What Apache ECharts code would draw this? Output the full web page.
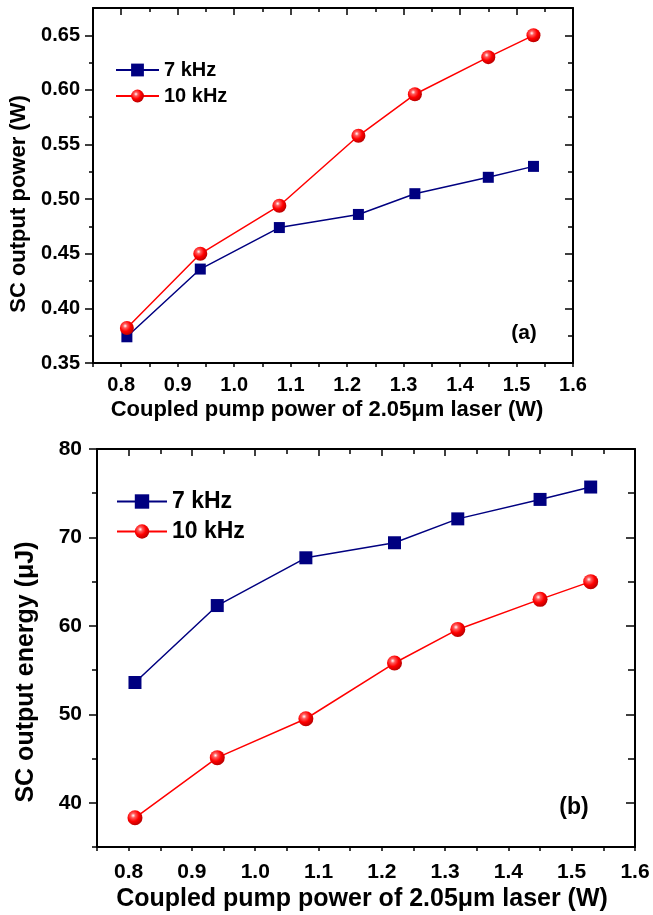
<!DOCTYPE html>
<html>
<head>
<meta charset="utf-8">
<script src="https://cdn.jsdelivr.net/npm/echarts@6/dist/echarts.min.js"></script>
<style>
  body { margin: 0; background: #fff; }
  #chart { width: 653px; height: 915px; }
</style>
</head>
<body>
<div id="chart"></div>
<script>
const pump = [0.81, 0.94, 1.08, 1.22, 1.32, 1.45, 1.53]
const power7 = [0.374, 0.436, 0.474, 0.486, 0.505, 0.520, 0.530]
const power10 = [0.382, 0.450, 0.494, 0.558, 0.596, 0.630, 0.650]
const energy7 = [53.6, 62.3, 67.7, 69.4, 72.1, 74.3, 75.7]
const energy10 = [38.3, 45.1, 49.5, 55.8, 59.6, 63.0, 65.0]

const xTicks = [0.8, 0.9, 1.0, 1.1, 1.2, 1.3, 1.4, 1.5, 1.6]
const xMinor = [0.75, 0.85, 0.95, 1.05, 1.15, 1.25, 1.35, 1.45, 1.55]
const powerTicks = [0.35, 0.40, 0.45, 0.50, 0.55, 0.60, 0.65]
const powerMinor = [0.375, 0.425, 0.475, 0.525, 0.575, 0.625]
const energyTicks = [40, 50, 60, 70, 80]
const energyMinor = [35, 45, 55, 65, 75]

const FONT = 'Liberation Sans'
const xName = 'Coupled pump power of 2.05μm laser (W)'

const pairs = (xs, ys) => xs.map((x, i) => [x, ys[i]])

const sphere = {
  type: 'radial', x: 0.38, y: 0.35, r: 0.7,
  colorStops: [
    { offset: 0, color: '#ffffff' },
    { offset: 0.22, color: '#ff5a5a' },
    { offset: 0.55, color: '#ff0000' },
    { offset: 1, color: '#b00000' }
  ]
}

// tick-only axis used for the mirrored frame sides and the minor ticks
function tickAxis(grid, pos, min, max, values, len, inside, line) {
  return {
    type: 'value', gridIndex: grid, position: pos, min, max,
    axisLine: { show: !!line, onZero: false, lineStyle: { color: '#000', width: 2 } },
    splitLine: { show: false },
    axisLabel: { show: false },
    axisTick: { show: true, inside, length: len, customValues: values,
      lineStyle: { color: '#000', width: 1.5 } }
  }
}

function mainX(grid, fs, nfs, margin, gap, shift) {
  return {
    type: 'value', gridIndex: grid, position: 'bottom', min: 0.75, max: 1.6,
    name: xName, nameLocation: 'middle', nameGap: gap,
    nameTextStyle: { fontFamily: FONT, fontWeight: 'bold', fontSize: nfs, color: '#000',
      padding: [0, shift, 0, 0] },
    axisLine: { onZero: false, lineStyle: { color: '#000', width: 2 } },
    splitLine: { show: false },
    axisTick: { inside: false, length: 4, customValues: xTicks.concat(xMinor),
      lineStyle: { color: '#000', width: 1.5 } },
    axisLabel: { customValues: xTicks, margin, fontFamily: FONT, fontWeight: 'bold',
      fontSize: fs, color: '#000', formatter: v => v.toFixed(1) }
  }
}

function mainY(grid, min, max, ticks, name, fs, nfs, margin, gap, shift, fmt) {
  return {
    type: 'value', gridIndex: grid, position: 'left', min, max,
    name, nameLocation: 'middle', nameGap: gap,
    nameTextStyle: { fontFamily: FONT, fontWeight: 'bold', fontSize: nfs, color: '#000',
      padding: [0, shift, 0, 0] },
    axisLine: { onZero: false, lineStyle: { color: '#000', width: 2 } },
    splitLine: { show: false },
    axisTick: { inside: false, length: 8, customValues: ticks,
      lineStyle: { color: '#000', width: 1.5 } },
    axisLabel: { customValues: ticks, margin, fontFamily: FONT, fontWeight: 'bold',
      fontSize: fs, color: '#000', formatter: fmt }
  }
}

function lineSeries(name, data, xi, yi, square, size) {
  return {
    name, type: 'line', xAxisIndex: xi, yAxisIndex: yi, data,
    symbol: square ? 'rect' : 'circle', symbolSize: size,
    lineStyle: { color: square ? '#000080' : '#ff0000', width: 1.5 },
    itemStyle: { color: square ? '#000080' : sphere },
    emphasis: { disabled: true }
  }
}

function legend(left, top, fs, h, gap, w) {
  return {
    orient: 'vertical', left, top, itemWidth: w, itemHeight: h, itemGap: gap,
    selectedMode: false, data: ['7 kHz', '10 kHz'],
    textStyle: { fontFamily: FONT, fontWeight: 'bold', fontSize: fs, color: '#000' }
  }
}

const chart = echarts.init(document.getElementById('chart'))
chart.setOption({
  animation: false,
  grid: [
    { left: 93, top: 8, width: 480, height: 355 },
    { left: 97, top: 449, width: 538, height: 398 }
  ],
  legend: [
    legend(110, 55, 20, 16, 6, 43),
    legend(111, 485, 23, 18, 7, 50)
  ],
  xAxis: [
    mainX(0, 20, 22, 12, 36, 12),
    tickAxis(0, 'top', 0.75, 1.6, xTicks, 7, true, true),
    tickAxis(0, 'top', 0.75, 1.6, xMinor, 4, true, false),
    mainX(1, 21, 25, 15, 40, 8),
    tickAxis(1, 'top', 0.75, 1.6, xTicks, 7, true, true),
    tickAxis(1, 'top', 0.75, 1.6, xMinor, 5, true, false)
  ],
  yAxis: [
    mainY(0, 0.35, 0.675, powerTicks, 'SC output power (W)', 20, 22, 13, 60, 37, v => v.toFixed(2)),
    tickAxis(0, 'left', 0.35, 0.675, powerMinor, 4, false, false),
    tickAxis(0, 'right', 0.35, 0.675, powerTicks, 8, true, true),
    tickAxis(0, 'right', 0.35, 0.675, powerMinor, 5, true, false),
    mainY(1, 35, 80, energyTicks, 'SC output energy (μJ)', 21, 25, 15, 58, 48, v => String(v)),
    tickAxis(1, 'left', 35, 80, energyMinor, 5, false, false),
    tickAxis(1, 'right', 35, 80, energyTicks, 9, true, true),
    tickAxis(1, 'right', 35, 80, energyMinor, 7, true, false)
  ],
  series: [
    lineSeries('7 kHz', pairs(pump, power7), 0, 0, true, 11),
    lineSeries('10 kHz', pairs(pump, power10), 0, 0, false, 14),
    lineSeries('7 kHz', pairs(pump, energy7), 3, 4, true, 13),
    lineSeries('10 kHz', pairs(pump, energy10), 3, 4, false, 15)
  ],
  graphic: [
    { type: 'text', style: { x: 524, y: 333, text: '(a)', textAlign: 'center', textVerticalAlign: 'middle',
      font: 'bold 21px "Liberation Sans"', fill: '#000' } },
    { type: 'text', style: { x: 574, y: 808, text: '(b)', textAlign: 'center', textVerticalAlign: 'middle',
      font: 'bold 23px "Liberation Sans"', fill: '#000' } }
  ]
})
</script>
</body>
</html>
